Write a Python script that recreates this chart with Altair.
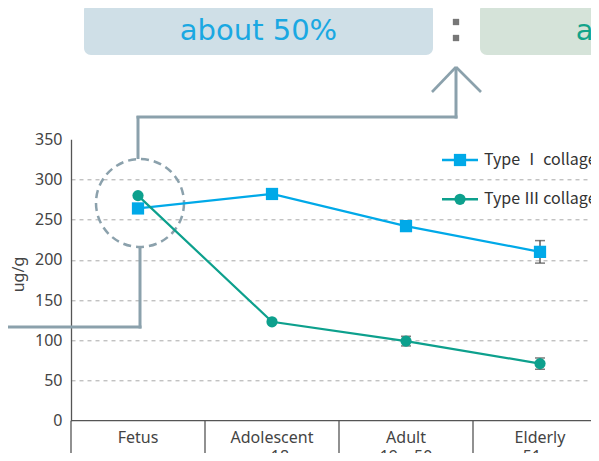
import altair as alt
import pandas as pd

# ---------------- data ----------------
categories = ["Fetus", "Adolescent", "Adult", "Elderly"]
cat_sub = ["", "〜18", "19〜50", "51〜"]
series = ["Type Ⅰ collagen", "Type Ⅲ collagen"]
type1 = [264, 282, 242, 210]
type1_err = [0, 0, 0, 14]
type3 = [280, 123, 99, 71]
type3_err = [0, 0, 6, 7]
y_ticks = [0, 50, 100, 150, 200, 250, 300, 350]
ratio_labels = ["about 50%", "about 50%"]
y_title = "ug/g"

BLUE = "#00a9e8"
GREEN = "#0da08d"
CONN = "#8ba1ac"
FONT = "Noto Sans, Noto Sans CJK JP, DejaVu Sans"
CJK = "Noto Sans CJK JP"
TXT = "#444444"

# plot-area origin in page coordinates (left of axis, value 350)
OX, OY = 71, 139.3
def px(x):
    return x - OX
def py(y):
    return y - OY

rows = []
for i, c in enumerate(categories):
    rows.append(dict(idx=i, cat=c, sub=cat_sub[i], series=series[0], value=type1[i], err=type1_err[i]))
    rows.append(dict(idx=i, cat=c, sub=cat_sub[i], series=series[1], value=type3[i], err=type3_err[i]))
df = pd.DataFrame(rows)
df["xpos"] = df["idx"] + 0.5
df["lo"] = df["value"] - df["err"]
df["hi"] = df["value"] + df["err"]

W = 520          # plot area reaches the right edge of the page
H = 281.4
SVG_H = 445
xscale = alt.Scale(domain=[0, W / 134.0], nice=False, zero=False)
yscale = alt.Scale(domain=[0, 350], nice=False)
color_scale = alt.Scale(domain=series, range=[BLUE, GREEN])

X = alt.X("xpos:Q", scale=xscale, axis=None)

yaxis = alt.Axis(values=y_ticks, title=y_title, grid=True, gridDash=[4, 4],
                 gridColor="#a8a8a8", gridWidth=1,
                 gridOpacity={"condition": {"test": "datum.value == 0 || datum.value == 350", "value": 0}, "value": 1},
                 ticks=False, domain=True, domainColor="#555555", domainWidth=1.3,
                 labelFont=FONT, labelFontSize=16, labelColor=TXT, labelPadding=9,
                 titleFont=FONT, titleFontSize=16, titleColor=TXT, titleFontWeight="normal",
                 titleX=px(18.5), titleY=py(274), titleAngle=-90, titleAlign="center",
                 titleBaseline="middle")

base = alt.Chart(df)

axis_layer = base.mark_point(opacity=0).encode(
    x=X, y=alt.Y("value:Q", scale=yscale, axis=yaxis))

one = alt.Chart(pd.DataFrame({"d": [0]}))

def seg(x1, y1, x2, y2, color=CONN, width=3):
    return one.mark_rule(color=color, strokeWidth=width, strokeCap="butt").encode(
        x=alt.value(px(x1)), x2=alt.value(px(x2)), y=alt.value(py(y1)), y2=alt.value(py(y2)))

# x table: dividers and baseline
div_df = pd.DataFrame({"xd": [0, 1, 2, 3, 4]})
dividers = alt.Chart(div_df).mark_rule(color="#555555", strokeWidth=1.3).encode(
    x=alt.X("xd:Q", scale=xscale, axis=None),
    y=alt.value(py(420.7)), y2=alt.value(py(480)))
baseline = one.mark_rule(color="#555555", strokeWidth=1.3).encode(
    x=alt.value(0), x2=alt.value(W), y=alt.value(py(420.7)))

lab_src = base.transform_filter(alt.datum.series == series[0])
xlabels = lab_src.mark_text(
    font=FONT, fontSize=16, color=TXT, align="center", baseline="alphabetic").encode(
    x=X, y=alt.value(py(443)), text="cat:N")
xlabels2 = lab_src.transform_filter(alt.datum.sub != "").mark_text(
    font=FONT, fontSize=16, color=TXT, align="center", baseline="alphabetic").encode(
    x=X, y=alt.value(py(461.5)), text="sub:N")

# error bars
err_df = df[df["err"] > 0]
err_rule = alt.Chart(err_df).mark_rule(color="#444444", strokeWidth=1.3).encode(
    x=X, y=alt.Y("lo:Q", scale=yscale, axis=None), y2="hi:Q")
err_lo = alt.Chart(err_df).mark_tick(color="#444444", thickness=1.5, size=10, orient="horizontal").encode(
    x=X, y=alt.Y("lo:Q", scale=yscale, axis=None))
err_hi = alt.Chart(err_df).mark_tick(color="#444444", thickness=1.5, size=10, orient="horizontal").encode(
    x=X, y=alt.Y("hi:Q", scale=yscale, axis=None))

lines = base.mark_line(strokeWidth=2.2).encode(
    x=X, y=alt.Y("value:Q", scale=yscale, axis=None),
    color=alt.Color("series:N", scale=color_scale, legend=None), detail="series:N")
pts1 = base.transform_filter(alt.datum.series == series[0]).mark_point(
    shape="square", filled=True, size=150, opacity=1, color=BLUE).encode(
    x=X, y=alt.Y("value:Q", scale=yscale, axis=None))
pts3 = base.transform_filter(alt.datum.series == series[1]).mark_point(
    shape="circle", filled=True, size=125, opacity=1, color=GREEN).encode(
    x=X, y=alt.Y("value:Q", scale=yscale, axis=None))

# legend
leg = []
for k, (ly, col, shp, sz) in enumerate([(160, BLUE, "square", 150), (199.3, GREEN, "circle", 125)]):
    leg.append(seg(442, ly, 478, ly, color=col, width=2.6))
    leg.append(one.mark_point(shape=shp, filled=True, size=sz, opacity=1, color=col).encode(
        x=alt.value(px(460)), y=alt.value(py(ly))))
    leg.append(alt.Chart(pd.DataFrame({"t": [series[k]]})).mark_text(
        font=CJK, fontSize=16, color="#333333", align="left", baseline="middle").encode(
        x=alt.value(px(484)), y=alt.value(py(ly)), text="t:N"))

# annotation: dashed circle + connectors + arrow
circle = one.mark_point(shape="circle", filled=False, size=88 * 88, color=CONN,
                        strokeWidth=2.5, strokeDash=[8, 5], opacity=1).encode(
    x=alt.value(px(140)), y=alt.value(py(203)))
conn = [
    seg(138, 159, 138, 116),
    seg(136.5, 117, 457.5, 117),
    seg(456, 118.5, 456, 68),
    seg(456, 67, 432, 92, width=2.6),
    seg(456, 67, 481, 92, width=2.6),
    seg(140, 247, 140, 328.5),
    seg(-10, 327, 141.5, 327),
]

# top ratio boxes
box_blue = one.mark_rect(color="#cfdfe7", cornerRadius=7).encode(
    x=alt.value(px(84)), x2=alt.value(px(433)), y=alt.value(py(3)), y2=alt.value(py(55)))
box_green = one.mark_rect(color="#d5e3d9", cornerRadius=7).encode(
    x=alt.value(px(480)), x2=alt.value(px(829)), y=alt.value(py(3)), y2=alt.value(py(55)))
txt_blue = alt.Chart(pd.DataFrame({"t": [ratio_labels[0]]})).mark_text(
    font="DejaVu Sans", fontSize=29, color="#1aa8e2", align="center", baseline="middle").encode(
    x=alt.value(px(258.5)), y=alt.value(py(31)), text="t:N")
txt_green = alt.Chart(pd.DataFrame({"t": [ratio_labels[1]]})).mark_text(
    font="DejaVu Sans", fontSize=29, color="#12a38a", align="center", baseline="middle").encode(
    x=alt.value(px(654.5)), y=alt.value(py(31)), text="t:N")
colon = [
    one.mark_point(shape="square", filled=True, size=40, color="#777777", opacity=1).encode(
        x=alt.value(px(456)), y=alt.value(py(cy)))
    for cy in (22, 38)
]

chart = alt.layer(
    axis_layer, dividers, baseline, xlabels, xlabels2,
    box_blue, box_green, txt_blue, txt_green, *colon,
    *conn, circle,
    err_rule, err_lo, err_hi, lines, pts1, pts3,
    *leg,
).resolve_scale(y="independent").properties(
    width=W, height=H,
    autosize=alt.AutoSizeParams(type="none"),
    padding={"left": OX - 8, "top": OY - 8, "right": 0, "bottom": SVG_H - (420.7 - 8)},
    background="white",
).configure_view(stroke=None)

chart.save("out.html", embed_options={"renderer": "svg", "actions": False})
